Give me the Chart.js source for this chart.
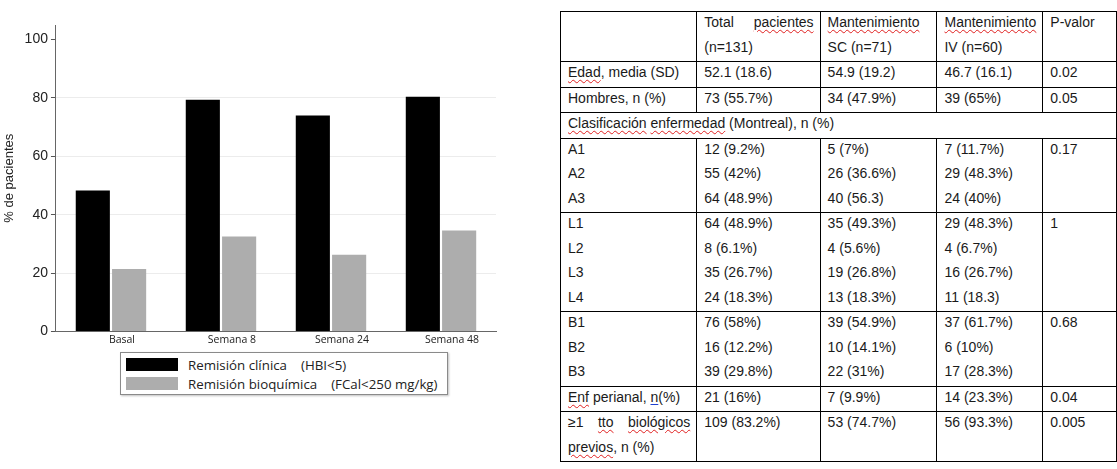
<!DOCTYPE html>
<html>
<head>
<meta charset="utf-8">
<script src="https://cdn.jsdelivr.net/npm/chart.js@4.4.1/dist/chart.umd.min.js"></script>
<style>
  body { margin: 0; background: #fff; width: 1117px; height: 469px; position: relative; overflow: hidden; }
  #chartBox { position: absolute; left: 0; top: 0; }
  #legend {
    position: absolute; left: 120px; top: 352px; width: 326px; height: 41px;
    border: 1px solid #8a8a8a; box-shadow: 1px 1px 2px rgba(0,0,0,0.25);
    font-family: "Open Sans", sans-serif; font-size: 13.3px; color: #222;
  }
  .item { position: absolute; left: 5px; height: 16px; }
  .sw { position: absolute; left: 0; top: 0; width: 52px; height: 13px; }
  .lbl { position: absolute; left: 62px; top: -2px; white-space: pre; line-height: 18px; }
  .crit { margin-left: 14px; }
  #tbl {
    position: absolute; left: 560px; top: 11px; border-collapse: collapse;
    font-family: "Liberation Sans", Arial, sans-serif; font-size: 14px; color: #1a1a1a;
  }
  #tbl td {
    border: 1px solid #000; padding: 0 6px 0 7px; vertical-align: top;
    line-height: 24.5px; text-align: justify;
  }
  #tbl td div { position: relative; top: -2px; }
  .sp { text-decoration: underline wavy #e02020; text-decoration-thickness: 1px; text-underline-offset: 2px; }
  .bl { text-decoration: underline #2040d0; text-underline-offset: 2px; }
</style>
</head>
<body>
<div id="chartBox"><canvas id="chart" width="520" height="348"></canvas></div>
<div id="legend"></div>
<table id="tbl"></table>
<script>
// bar chart data
const categories = ['Basal', 'Semana 8', 'Semana 24', 'Semana 48'];
const clinica = [48.3, 79.4, 74.0, 80.4];
const bioquimica = [21.4, 32.5, 26.3, 34.6];
const seriesNames = ['Remisión clínica', 'Remisión bioquímica'];
const seriesCriteria = ['(HBI<5)', '(FCal<250 mg/kg)'];
const yTicks = [0, 20, 40, 60, 80, 100];

// table data
const colWidths = [137, 124, 117, 103, 74];
const header = ['', 'Total pacientes (n=131)', 'Mantenimiento SC (n=71)', 'Mantenimiento IV (n=60)', 'P-valor'];
const edadRow = ['Edad, media (SD)', '52.1 (18.6)', '54.9 (19.2)', '46.7 (16.1)', '0.02'];
const hombresRow = ['Hombres, n (%)', '73 (55.7%)', '34 (47.9%)', '39 (65%)', '0.05'];
const montrealTitle = 'Clasificación enfermedad (Montreal), n (%)';
const groupA = [['A1', 'A2', 'A3'], ['12 (9.2%)', '55 (42%)', '64 (48.9%)'], ['5 (7%)', '26 (36.6%)', '40 (56.3)'], ['7 (11.7%)', '29 (48.3%)', '24 (40%)'], ['0.17']];
const groupL = [['L1', 'L2', 'L3', 'L4'], ['64 (48.9%)', '8 (6.1%)', '35 (26.7%)', '24 (18.3%)'], ['35 (49.3%)', '4 (5.6%)', '19 (26.8%)', '13 (18.3%)'], ['29 (48.3%)', '4 (6.7%)', '16 (26.7%)', '11 (18.3)'], ['1']];
const groupB = [['B1', 'B2', 'B3'], ['76 (58%)', '16 (12.2%)', '39 (29.8%)'], ['39 (54.9%)', '10 (14.1%)', '22 (31%)'], ['37 (61.7%)', '6 (10%)', '17 (28.3%)'], ['0.68']];
const perianalRow = ['Enf perianal, n(%)', '21 (16%)', '7 (9.9%)', '14 (23.3%)', '0.04'];
const biologicosRow = ['≥1 tto biológicos previos, n (%)', '109 (83.2%)', '53 (74.7%)', '56 (93.3%)', '0.005'];
const spellWords = ['pacientes', 'Mantenimiento', 'Edad', 'Clasificación', 'enfermedad', 'Enf', 'tto', 'biológicos', 'previos'];

const ctx = document.getElementById('chart').getContext('2d');
const chart = new Chart(ctx, {
    type: 'bar',
    data: {
        labels: categories,
        datasets: [{
            label: seriesNames[0],
            data: clinica,
            backgroundColor: '#000000',
        }, {
            label: seriesNames[1],
            data: bioquimica,
            backgroundColor: '#adadad',
        }],
    },
    options: {
        responsive: false,
        animation: false,
        devicePixelRatio: 1,
        categoryPercentage: 0.66,
        barPercentage: 0.94,
        layout: { padding: { top: 25, right: 24, left: 0, bottom: 0 } },
        plugins: {
            legend: { display: false },
            tooltip: { enabled: false },
        },
        scales: {
            x: {
                grid: { display: false, drawTicks: false },
                border: { display: true, color: '#666', width: 1 },
                ticks: {
                    color: '#222',
                    padding: 2,
                    labelOffset: 11,
                    maxRotation: 0,
                    font: { family: 'Open Sans', size: 10.5 },
                },
            },
            y: {
                min: 0,
                max: 105,
                afterBuildTicks: axis => {
                    axis.ticks = yTicks.map(v => ({ value: v }));
                },
                grid: {
                    color: c => (c.tick && (c.tick.value === 0 || c.tick.value === 100)) ? 'rgba(0,0,0,0)' : '#ececec',
                    tickColor: '#555',
                    tickLength: 5,
                },
                border: { display: true, color: '#666', width: 1 },
                ticks: {
                    color: '#222',
                    padding: 3,
                    font: { family: 'Liberation Sans', size: 14 },
                },
                title: {
                    display: true,
                    text: '% de pacientes',
                    color: '#222',
                    padding: { top: 2, bottom: 4 },
                    font: { family: 'Liberation Sans', size: 13 },
                },
            },
        },
    },
});

// html legend from the datasets
const legendEl = document.getElementById('legend');
chart.data.datasets.forEach((ds, i) => {
    const item = document.createElement('div');
    item.className = 'item';
    item.style.top = (i === 0 ? 5 : 24) + 'px';
    item.innerHTML = '<div class="sw" style="background:' + ds.backgroundColor + '"></div>' +
        '<div class="lbl">' + ds.label + '<span class="crit">' + seriesCriteria[i].replace(/</g, '&lt;') + '</span></div>';
    legendEl.appendChild(item);
});

// table
function mark(text) {
    let out = text;
    spellWords.forEach(w => {
        out = out.replace(new RegExp('(^|[\\s(])(' + w + ')(?=[\\s,]|$)', 'g'), '$1<span class="sp">$2</span>');
    });
    out = out.replace(/ n\(/, ' <span class="bl">n</span>(');
    return out;
}

const tbl = document.getElementById('tbl');
function addRow(cells) {
    const tr = document.createElement('tr');
    cells.forEach((c, i) => {
        const td = document.createElement('td');
        td.style.width = (colWidths[i] - 14) + 'px';
        td.innerHTML = '<div>' + mark(c) + '</div>';
        tr.appendChild(td);
    });
    tbl.appendChild(tr);
}
function addGroup(group) {
    addRow(group.map(col => col.join('<br>')));
}

addRow(header);
addRow(edadRow);
addRow(hombresRow);
const trM = document.createElement('tr');
const tdM = document.createElement('td');
tdM.colSpan = 5;
tdM.innerHTML = '<div>' + mark(montrealTitle) + '</div>';
trM.appendChild(tdM);
tbl.appendChild(trM);
addGroup(groupA);
addGroup(groupL);
addGroup(groupB);
addRow(perianalRow);
addRow(biologicosRow);
</script>
</body>
</html>
